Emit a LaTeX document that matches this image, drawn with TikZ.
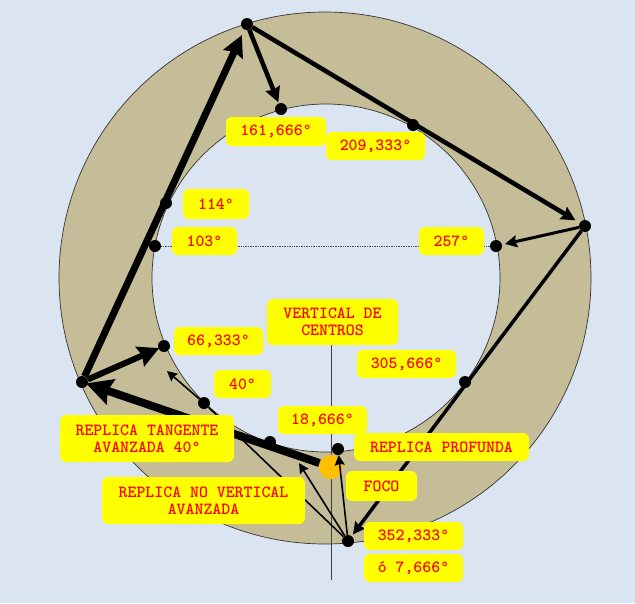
\documentclass[tikz,border=0pt]{standalone}
\usepackage{fontspec}
\newfontfamily\dg{Liberation Mono}[Scale=0.88]
\newcommand\gr{{\dg\bfseries °}}
\usetikzlibrary{arrows.meta}
\definecolor{bg}{HTML}{DBE5F1}
\definecolor{tan}{HTML}{C4BD97}
\definecolor{foco}{HTML}{FFC000}
\definecolor{ama}{HTML}{FFFF00}
\definecolor{roj}{HTML}{FF0000}
\begin{document}
\begin{tikzpicture}[x=1pt,y=-1pt,
    p/.style={circle,fill=black,inner sep=0pt,minimum size=12pt},
    l/.style={fill=ama,text=roj,rounded corners=6pt,align=center,inner sep=0pt,
      font=\fontsize{17}{17}\selectfont\ttfamily\bfseries},
    a/.style 2 args={line width=#1,-{Stealth[length=#2,width=#2,inset=.12*#2]}}]
\useasboundingbox[fill=bg] (0,0) rectangle (635,603);
\filldraw[fill=tan,draw=black!80,line width=.7pt,even odd rule]
    (325,278) circle[radius=266] (326,278) circle[radius=174];
\coordinate (vt) at (331,345);
\coordinate (vb) at (331,580);
\draw[line width=.7pt,black!75] (vt) -- (vb);
\node[circle,fill=foco,inner sep=0pt,minimum size=24pt] (foco) at (331,467) {};
\node[p] (a) at (247,24) {};
\node[p] (b) at (585,226) {};
\node[p] (c) at (348,541) {};
\node[p] (d) at (82,382) {};
\node[p] (p161) at (281,109) {};
\node[p] (p209) at (413,125) {};
\node[p] (p114) at (166,203) {};
\node[p] (p103) at (155,246) {};
\node[p] (p257) at (496,246) {};
\node[p] (p66) at (164,346) {};
\node[p] (p40) at (204,403) {};
\node[p] (p18) at (270,442) {};
\node[p] (p305) at (465,382) {};
\node[p] (p352) at (338,449) {};
\coordinate (e40) at (167,371);
\coordinate (e18) at (299,463);
\draw[densely dotted,line width=.7pt,black!70] (p103) -- (p257);
\draw[a={7pt}{21pt},shorten >=6pt] (d) -- (a);
\draw[a={4.5pt}{15pt},shorten >=1pt] (a) -- (p161);
\draw[a={4.5pt}{14pt},shorten >=5pt] (a) -- (b);
\draw[a={3pt}{12pt},shorten >=3pt] (b) -- (p257);
\draw[a={3.5pt}{12pt},shorten >=2pt] (b) -- (c);
\draw[a={6pt}{21pt},shorten >=-1pt] (d) -- (p66);
\draw[a={8pt}{26pt},shorten >=-2pt] (foco) -- (d);
\draw[a={1.6pt}{10pt}] (c) -- (p40) -- (e40);
\draw[a={1.6pt}{10pt}] (c) -- (e18);
\draw[a={1.6pt}{10pt}] (c) -- (p352);
\node[l,minimum width=100pt,minimum height=29pt] (t161) at (276,131.5) {161,666\gr};
\node[l,minimum width=99pt,minimum height=28pt] (t209) at (375.5,146) {209,333\gr};
\node[l,minimum width=66pt,minimum height=30pt] (t114) at (216,204) {114\gr};
\node[l,minimum width=65pt,minimum height=28pt] (t103) at (204.5,241) {103\gr};
\node[l,minimum width=65pt,minimum height=28pt] (t257) at (451.5,241) {257\gr};
\node[l,minimum width=89pt,minimum height=28pt] (t66) at (218.5,341) {66,333\gr};
\node[l,minimum width=131pt,minimum height=46pt] (tvc) at (332.5,322) {VERTICAL DE\\CENTROS};
\node[l,minimum width=99pt,minimum height=28pt] (t305) at (406.5,364) {305,666\gr};
\node[l,minimum width=57pt,minimum height=28pt] (t40) at (242.5,384) {40\gr};
\node[l,minimum width=89pt,minimum height=28pt] (t18) at (322.5,420) {18,666\gr};
\node[l,minimum width=174pt,minimum height=47pt] (ttg) at (147,438.5) {REPLICA TANGENTE\\AVANZADA 40\gr};
\node[l,minimum width=175pt,minimum height=28pt] (tpr) at (441.5,447) {REPLICA PROFUNDA};
\node[l,minimum width=203pt,minimum height=47pt] (tnv) at (203.5,500.5) {REPLICA NO VERTICAL\\AVANZADA};
\node[l,minimum width=71pt,minimum height=30pt] (tfo) at (381.5,486) {FOCO};
\node[l,minimum width=99pt,minimum height=28pt] (t352) at (413.5,536) {352,333\gr};
\node[l,minimum width=99pt,minimum height=28pt] (t7) at (413.5,568) {ó 7,666\gr};
\end{tikzpicture}
\end{document}
